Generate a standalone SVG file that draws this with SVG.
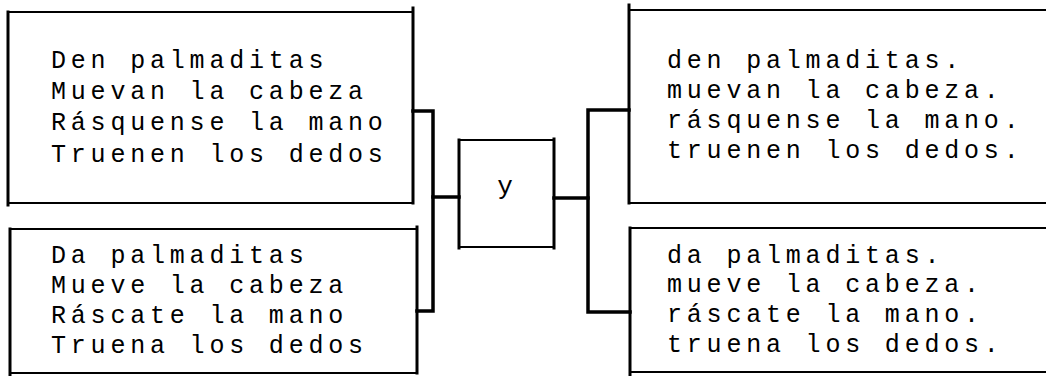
<svg xmlns="http://www.w3.org/2000/svg" width="1046" height="376" viewBox="0 0 1046 376">
<style>
.bx{fill:none;stroke:#000;stroke-width:2;stroke-linecap:square}
.bv{fill:none;stroke:#000;stroke-width:3;stroke-linecap:square}
.cn{fill:none;stroke:#000;stroke-width:3.5;stroke-linejoin:miter;stroke-linecap:square}
.t{font-family:"Liberation Mono","DejaVu Sans Mono",monospace;font-size:25px;letter-spacing:4.8px;fill:#000}
</style>
<rect width="1046" height="376" fill="#fff"/>
<g id="box-tl">
<path class="bx" d="M8,12 H413 M8,203 H413"/>
<path class="bv" d="M8,12 V205 M413,8 V203"/>
<text class="t" x="51" y="68">Den palmaditas</text>
<text class="t" x="51" y="99">Muevan la cabeza</text>
<text class="t" x="51" y="130">Rásquense la mano</text>
<text class="t" x="51" y="162">Truenen los dedos</text>
</g>
<g id="box-bl">
<path class="bx" d="M10,229 H417 M10,373 H417"/>
<path class="bv" d="M10,229 V376 M417,227 V373"/>
<text class="t" x="51" y="263">Da palmaditas</text>
<text class="t" x="51" y="293">Mueve la cabeza</text>
<text class="t" x="51" y="323">Ráscate la mano</text>
<text class="t" x="51" y="353">Truena los dedos</text>
</g>
<g id="box-y">
<path class="bx" d="M459,140 H554 M459,247 H554"/>
<path class="bv" d="M459,140 V248 M554,139 V248"/>
<text x="505" y="194" text-anchor="middle" style="font-family:'Liberation Mono','DejaVu Sans Mono',monospace;font-size:26px;fill:#000">y</text>
</g>
<g id="box-tr">
<path class="bx" d="M629,10 H1046 M629,203 H1046"/>
<path class="bv" d="M629,5 V203"/>
<text class="t" x="667" y="68">den palmaditas.</text>
<text class="t" x="667" y="98">muevan la cabeza.</text>
<text class="t" x="667" y="128">rásquense la mano.</text>
<text class="t" x="667" y="158">truenen los dedos.</text>
</g>
<g id="box-br">
<path class="bx" d="M630,228 H1046 M630,372 H1046"/>
<path class="bv" d="M630,228 V376"/>
<text class="t" x="667" y="263">da palmaditas.</text>
<text class="t" x="667" y="292">mueve la cabeza.</text>
<text class="t" x="667" y="322">ráscate la mano.</text>
<text class="t" x="667" y="352">truena los dedos.</text>
</g>
<g id="connectors">
<path class="cn" d="M413,111 H433 V311 H417"/>
<path class="cn" d="M433,197 H459"/>
<path class="cn" d="M554,198 H588"/>
<path class="cn" d="M629,110 H588 V312 H630"/>
</g>
</svg>
